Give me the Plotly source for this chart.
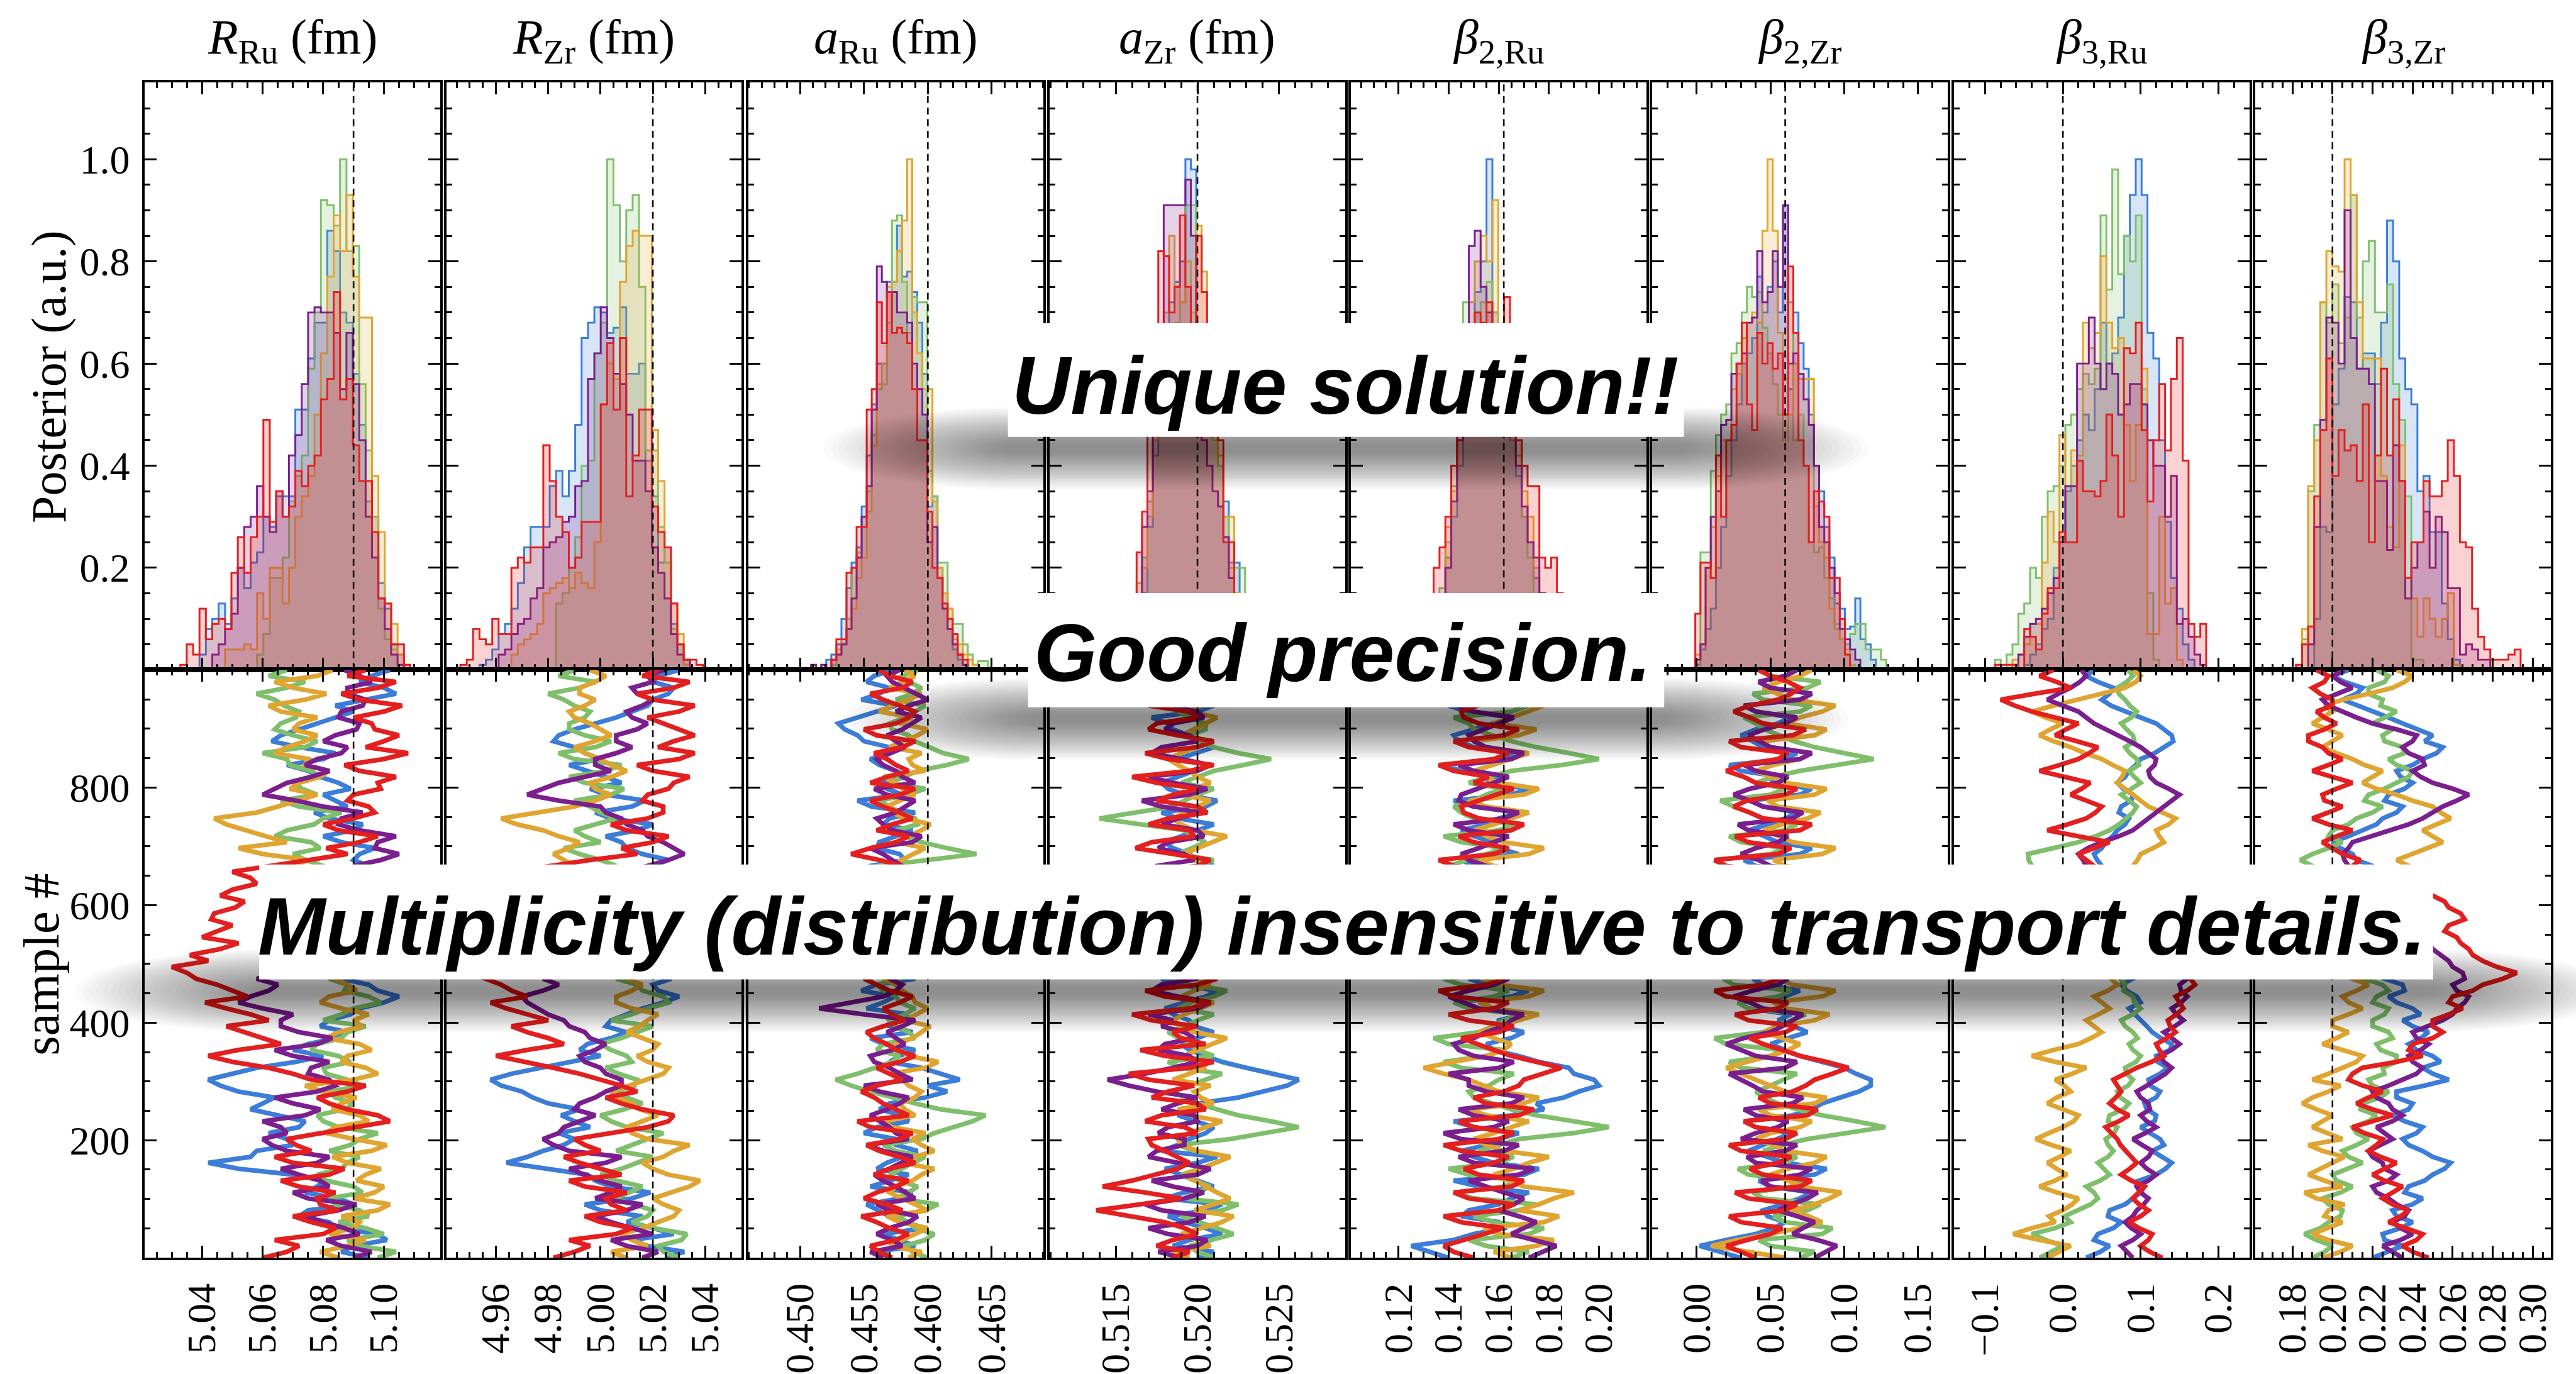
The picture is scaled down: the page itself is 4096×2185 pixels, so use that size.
import numpy as np
import plotly.graph_objects as go

# ------------------------------------------------------------------ data
TITLES = ["<i>R</i><sub>Ru</sub> (fm)", "<i>R</i><sub>Zr</sub> (fm)",
          "<i>a</i><sub>Ru</sub> (fm)", "<i>a</i><sub>Zr</sub> (fm)",
          "<i>β</i><sub>2,Ru</sub>", "<i>β</i><sub>2,Zr</sub>",
          "<i>β</i><sub>3,Ru</sub>", "<i>β</i><sub>3,Zr</sub>"]
TRUE_VALUES = [5.09, 5.02, 0.46, 0.52, 0.162, 0.06, 0.0, 0.20]
X_RANGES = [[5.0211, 5.1187], [4.941, 5.054], [0.44594, 0.46906], [0.51094, 0.52903],
            [0.1009, 0.2189], [-0.0303, 0.1702], [-0.1401, 0.2401], [0.1615, 0.309]]
X_TICKVALS = [[5.04, 5.06, 5.08, 5.10], [4.96, 4.98, 5.00, 5.02, 5.04],
              [0.450, 0.455, 0.460, 0.465], [0.515, 0.520, 0.525],
              [0.12, 0.14, 0.16, 0.18, 0.20], [0.00, 0.05, 0.10, 0.15],
              [-0.1, 0.0, 0.1, 0.2], [0.18, 0.20, 0.22, 0.24, 0.26, 0.28, 0.30]]
X_TICKTEXT = [["5.04", "5.06", "5.08", "5.10"], ["4.96", "4.98", "5.00", "5.02", "5.04"],
              ["0.450", "0.455", "0.460", "0.465"], ["0.515", "0.520", "0.525"],
              ["0.12", "0.14", "0.16", "0.18", "0.20"], ["0.00", "0.05", "0.10", "0.15"],
              ["\u22120.1", "0.0", "0.1", "0.2"], ["0.18", "0.20", "0.22", "0.24", "0.26", "0.28", "0.30"]]
X_MINOR_STEP = [0.005, 0.005, 0.001, 0.001, 0.005, 0.01, 0.02, 0.005]

HIST_TICKVALS = [0.2, 0.4, 0.6, 0.8, 1.0]
HIST_TICKTEXT = ["0.2", "0.4", "0.6", "0.8", "1.0"]
SAMPLE_TICKVALS = [200, 400, 600, 800]
SAMPLE_TICKTEXT = ["200", "400", "600", "800"]
SAMPLE_STEP = 10.1

# histogram bin layout per panel: first edge, bin width
HIST_X0 = [5.0328, 4.9464, 0.45047, 0.51561, 0.13164, -0.001, -0.0875, 0.1818]
HIST_BW = [0.00211, 0.00244, 0.0003956, 0.000332, 0.002345, 0.0035, 0.00755, 0.00303]

# --- histogram heights (order: blue, green, orange, purple, red)
H_RRU_BLUE = [0, 0, 0, 0.03, 0.08, 0.10, 0.13, 0.09, 0.14, 0.20, 0.16, 0.21, 0.23, 0.30, 0.28, 0.34, 0.34, 0.34, 0.51, 0.51,
              0.61, 0.68, 0.68, 0.86, 0.82, 0.70, 0.68, 0.58, 0.48, 0.33, 0.30, 0.17, 0.12, 0.05, 0.03, 0.0]
H_RRU_GREEN = [0, 0, 0, 0, 0, 0, 0, 0, 0, 0, 0, 0, 0.03, 0.07, 0.18, 0.18, 0.22, 0.33, 0.38, 0.42,
               0.59, 0.70, 0.92, 0.91, 0.87, 1.00, 0.82, 0.83, 0.56, 0.43, 0.30, 0.12, 0.06, 0.04, 0.0, 0.0]
H_RRU_ORANGE = [0, 0, 0, 0, 0, 0, 0, 0.04, 0.04, 0.04, 0.05, 0.04, 0.15, 0.10, 0.20, 0.20, 0.13, 0.20, 0.30, 0.34,
                0.38, 0.50, 0.62, 0.77, 0.89, 0.82, 0.93, 0.77, 0.69, 0.69, 0.38, 0.27, 0.13, 0.09, 0.03, 0.01]
H_RRU_PURPLE = [0, 0, 0, 0, 0, 0.03, 0.05, 0.08, 0.11, 0.20, 0.28, 0.30, 0.36, 0.30, 0.27, 0.35, 0.30, 0.42, 0.46, 0.56,
                0.70, 0.71, 0.70, 0.70, 0.66, 0.55, 0.66, 0.56, 0.45, 0.30, 0.22, 0.14, 0.08, 0.03, 0.01, 0.0]
H_RRU_RED = [0.01, 0.05, 0.03, 0.12, 0.06, 0.09, 0.10, 0.08, 0.19, 0.26, 0.19, 0.26, 0.30, 0.49, 0.29, 0.35, 0.30, 0.32, 0.39, 0.36,
             0.40, 0.42, 0.53, 0.57, 0.74, 0.53, 0.57, 0.44, 0.37, 0.37, 0.27, 0.14, 0.13, 0.05, 0.05, 0.01]

H_RZR_BLUE = [0, 0, 0, 0.01, 0.02, 0.04, 0.07, 0.09, 0.12, 0.17, 0.24, 0.28, 0.28, 0.28, 0.36, 0.39, 0.34, 0.39, 0.48, 0.65,
              0.68, 0.71, 0.70, 0.66, 0.67, 0.71, 0.58, 0.58, 0.60, 0.41, 0.34, 0.21, 0.24, 0.09, 0.05, 0.02, 0, 0]
H_RZR_GREEN = [0, 0, 0, 0, 0, 0, 0, 0, 0, 0, 0, 0, 0, 0, 0, 0.13, 0.15, 0.20, 0.26, 0.40,
               0.41, 0.62, 0.68, 1.00, 0.91, 0.80, 0.90, 0.93, 0.75, 0.43, 0.43, 0.28, 0.21, 0.08, 0.05, 0.02, 0, 0]
H_RZR_ORANGE = [0, 0, 0, 0, 0, 0, 0, 0, 0.03, 0.05, 0.06, 0.07, 0.09, 0.15, 0.16, 0.17, 0.18, 0.16, 0.19, 0.17,
                0.16, 0.25, 0.52, 0.60, 0.57, 0.76, 0.83, 0.86, 0.85, 0.85, 0.47, 0.37, 0.24, 0.13, 0.07, 0.01, 0, 0]
H_RZR_PURPLE = [0, 0, 0, 0, 0, 0, 0.03, 0.04, 0.07, 0.09, 0.10, 0.14, 0.16, 0.24, 0.25, 0.26, 0.29, 0.30, 0.36, 0.37,
                0.57, 0.62, 0.71, 0.65, 0.58, 0.56, 0.50, 0.41, 0.41, 0.35, 0.24, 0.19, 0.14, 0.07, 0.03, 0.02, 0, 0]
H_RZR_RED = [0.01, 0.02, 0.08, 0.06, 0.05, 0.10, 0.07, 0.07, 0.20, 0.22, 0.21, 0.24, 0.24, 0.44, 0.37, 0.30, 0.27, 0.20, 0.22, 0.29,
             0.29, 0.29, 0.52, 0.64, 0.51, 0.65, 0.34, 0.42, 0.51, 0.51, 0.32, 0.27, 0.24, 0.13, 0.05, 0.02, 0.02, 0.01]

H_ARU_BLUE = [0, 0, 0, 0, 0.02, 0.03, 0.05, 0.10, 0.16, 0.21, 0.24, 0.32, 0.42, 0.52, 0.60, 0.60, 0.76, 0.76, 0.87, 0.77,
              0.78, 0.74, 0.68, 0.58, 0.32, 0.34, 0.20, 0.15, 0.08, 0.04, 0.02, 0.01, 0, 0, 0, 0, 0]
H_ARU_GREEN = [0, 0, 0, 0, 0, 0.01, 0.03, 0.05, 0.10, 0.20, 0.23, 0.30, 0.35, 0.46, 0.55, 0.56, 0.68, 0.88, 0.89, 0.76,
               0.66, 0.73, 0.72, 0.72, 0.39, 0.34, 0.21, 0.21, 0.12, 0.09, 0.09, 0.05, 0.03, 0.01, 0.017, 0.017, 0]
H_ARU_ORANGE = [0, 0.01, 0, 0.01, 0, 0.02, 0.04, 0.06, 0.08, 0.12, 0.18, 0.22, 0.31, 0.44, 0.56, 0.60, 0.75, 0.76, 0.82, 0.88,
                1.00, 0.70, 0.62, 0.55, 0.55, 0.33, 0.20, 0.15, 0.12, 0.06, 0.05, 0.03, 0.02, 0.01, 0, 0, 0]
H_ARU_PURPLE = [0, 0.01, 0, 0.01, 0, 0.02, 0.03, 0.05, 0.08, 0.14, 0.22, 0.30, 0.36, 0.51, 0.79, 0.76, 0.74, 0.74, 0.70, 0.70,
                0.68, 0.60, 0.55, 0.50, 0.25, 0.28, 0.18, 0.12, 0.08, 0.05, 0.03, 0.01, 0, 0, 0, 0, 0]
H_ARU_RED = [0, 0, 0, 0, 0, 0.02, 0.06, 0.06, 0.19, 0.20, 0.28, 0.28, 0.51, 0.55, 0.72, 0.64, 0.74, 0.66, 0.67, 0.66,
             0.64, 0.55, 0.45, 0.45, 0.31, 0.20, 0.18, 0.13, 0.10, 0.07, 0.03, 0.02, 0, 0, 0, 0, 0]

H_AZR_BLUE = [0.01, 0.03, 0.08, 0.15, 0.28, 0.42, 0.55, 0.62, 0.72, 0.76, 0.80, 1.00, 0.98, 0.62, 0.58, 0.55, 0.48, 0.40, 0.33, 0.21,
              0.21, 0.10, 0.05, 0.02]
H_AZR_GREEN = [0.03, 0.08, 0.17, 0.22, 0.33, 0.45, 0.55, 0.60, 0.65, 0.68, 0.72, 0.91, 0.91, 0.58, 0.55, 0.52, 0.45, 0.40, 0.30, 0.20,
               0.20, 0.20, 0.10, 0.05]
H_AZR_ORANGE = [0.0, 0.02, 0.08, 0.20, 0.30, 0.45, 0.60, 0.70, 0.85, 0.75, 0.72, 0.80, 0.70, 0.87, 0.78, 0.66, 0.55, 0.42, 0.30, 0.30,
                0.15, 0.06, 0.02, 0.01]
H_AZR_PURPLE = [0.01, 0.04, 0.12, 0.28, 0.35, 0.48, 0.60, 0.91, 0.91, 0.91, 0.91, 0.96, 0.85, 0.55, 0.45, 0.40, 0.35, 0.32, 0.26, 0.18,
                0.10, 0.06, 0.03, 0.01]
H_AZR_RED = [0.01, 0.05, 0.23, 0.31, 0.50, 0.62, 0.82, 0.81, 0.70, 0.75, 0.89, 0.75, 0.60, 0.85, 0.74, 0.62, 0.55, 0.45, 0.25, 0.25,
             0.12, 0.05, 0.02, 0.0]

H_B2RU_BLUE = [0.0, 0.02, 0.10, 0.22, 0.30, 0.40, 0.55, 0.60, 0.74, 0.80, 1.00, 0.70, 0.60, 0.55, 0.45, 0.38, 0.30, 0.25, 0.18, 0.12,
               0.08, 0.05, 0.02, 0.01]
H_B2RU_GREEN = [0.0, 0.03, 0.16, 0.25, 0.36, 0.48, 0.72, 0.65, 0.70, 0.72, 0.76, 0.70, 0.58, 0.50, 0.46, 0.42, 0.30, 0.22, 0.12, 0.08,
                0.05, 0.03, 0.02, 0.0]
H_B2RU_ORANGE = [0.0, 0.05, 0.14, 0.28, 0.35, 0.45, 0.55, 0.72, 0.80, 0.85, 0.80, 0.92, 0.62, 0.55, 0.48, 0.45, 0.35, 0.30, 0.20, 0.15,
                 0.10, 0.05, 0.03, 0.01]
H_B2RU_PURPLE = [0.01, 0.04, 0.12, 0.20, 0.33, 0.45, 0.55, 0.83, 0.86, 0.75, 0.70, 0.65, 0.55, 0.50, 0.47, 0.40, 0.32, 0.25, 0.22, 0.15,
                 0.10, 0.06, 0.02, 0.01]
H_B2RU_RED = [0.0, 0.20, 0.24, 0.30, 0.40, 0.55, 0.62, 0.66, 0.70, 0.68, 0.72, 0.65, 0.60, 0.73, 0.55, 0.45, 0.40, 0.36, 0.36, 0.22,
              0.20, 0.22, 0.15, 0.0]

H_B2ZR_BLUE = [0.01, 0.04, 0.08, 0.12, 0.20, 0.28, 0.38, 0.45, 0.52, 0.60, 0.62, 0.65, 0.77, 0.70, 0.75, 0.80, 0.70, 0.91, 0.55, 0.70,
               0.64, 0.59, 0.50, 0.40, 0.35, 0.28, 0.22, 0.13, 0.12, 0.08, 0.085, 0.14, 0.06, 0.05, 0.02, 0, 0, 0]
H_B2ZR_GREEN = [0, 0.23, 0.23, 0.39, 0.46, 0.50, 0.52, 0.62, 0.64, 0.70, 0.75, 0.73, 0.74, 0.67, 0.62, 0.56, 0.50, 0.45, 0.72, 0.45,
                0.50, 0.40, 0.25, 0.23, 0.24, 0.18, 0.14, 0.08, 0.06, 0.05, 0.07, 0.09, 0.09, 0.04, 0.04, 0.04, 0.02, 0]
H_B2ZR_ORANGE = [0.03, 0.05, 0.20, 0.28, 0.38, 0.45, 0.45, 0.55, 0.58, 0.65, 0.68, 0.70, 0.68, 0.86, 1.00, 0.86, 0.66, 0.57, 0.50, 0.60,
                 0.57, 0.57, 0.57, 0.32, 0.25, 0.22, 0.12, 0.09, 0.06, 0.04, 0.01, 0, 0, 0, 0, 0, 0, 0]
H_B2ZR_PURPLE = [0.02, 0.05, 0.20, 0.30, 0.35, 0.48, 0.49, 0.58, 0.60, 0.62, 0.68, 0.69, 0.82, 0.72, 0.74, 0.82, 0.75, 0.91, 0.60, 0.62,
                 0.58, 0.53, 0.48, 0.40, 0.28, 0.25, 0.20, 0.15, 0.08, 0.06, 0.04, 0.02, 0, 0, 0, 0, 0, 0]
H_B2ZR_RED = [0.11, 0.21, 0.21, 0.18, 0.42, 0.30, 0.45, 0.48, 0.60, 0.68, 0.52, 0.47, 0.66, 0.60, 0.64, 0.59, 0.62, 0.50, 0.79, 0.66,
              0.45, 0.40, 0.25, 0.35, 0.33, 0.30, 0.18, 0.18, 0.10, 0.03, 0, 0, 0, 0, 0, 0, 0, 0]

H_B3RU_BLUE = [0, 0, 0, 0, 0, 0.01, 0.03, 0.05, 0.08, 0.10, 0.20, 0.26, 0.35, 0.40, 0.45, 0.50, 0.47, 0.55, 0.68, 0.60,
               0.62, 0.69, 0.85, 0.93, 1.00, 0.93, 0.66, 0.61, 0.45, 0.29, 0.18, 0.12, 0.05, 0.02, 0, 0, 0]
H_B3RU_GREEN = [0.02, 0, 0.03, 0.05, 0.11, 0.13, 0.20, 0.18, 0.30, 0.35, 0.36, 0.40, 0.48, 0.50, 0.55, 0.58, 0.56, 0.59, 0.89, 0.745,
                0.98, 0.775, 0.85, 0.80, 0.89, 0.55, 0.15, 0.02, 0, 0, 0, 0, 0, 0, 0, 0, 0]
H_B3RU_ORANGE = [0, 0, 0, 0.02, 0.03, 0.05, 0.09, 0.09, 0.21, 0.31, 0.25, 0.46, 0.36, 0.43, 0.42, 0.68, 0.63, 0.66, 0.81, 0.68,
                 0.63, 0.65, 0.48, 0.37, 0.48, 0.59, 0.07, 0.07, 0.30, 0.13, 0.16, 0.02, 0, 0, 0, 0, 0]
H_B3RU_PURPLE = [0, 0, 0, 0, 0.03, 0.065, 0.09, 0.10, 0.12, 0.15, 0.18, 0.25, 0.36, 0.36, 0.60, 0.60, 0.69, 0.60, 0.55, 0.60,
                 0.58, 0.50, 0.52, 0.56, 0.56, 0.52, 0.45, 0.40, 0.40, 0.30, 0.38, 0.09, 0.10, 0.065, 0.03, 0.01, 0]
H_B3RU_RED = [0.01, 0.01, 0.01, 0.01, 0.0, 0.08, 0.065, 0.04, 0.11, 0.16, 0.16, 0.27, 0.25, 0.25, 0.41, 0.35, 0.35, 0.34, 0.37, 0.50,
              0.42, 0.30, 0.63, 0.62, 0.68, 0.47, 0.33, 0.45, 0.56, 0.43, 0.57, 0.65, 0.41, 0.09, 0.065, 0.09, 0]

H_B3ZR_BLUE = [0, 0, 0, 0.10, 0.28, 0.27, 0.52, 0.59, 0.73, 0.72, 0.59, 0.62, 0.62, 0.56, 0.68, 0.88, 0.80, 0.61, 0.55, 0.52,
               0.35, 0.38, 0.27, 0.27, 0.13, 0.06, 0.02, 0, 0, 0, 0, 0, 0, 0, 0, 0, 0, 0]
H_B3ZR_GREEN = [0, 0.06, 0.35, 0.48, 0.72, 0.68, 0.755, 0.64, 0.69, 0.93, 0.69, 0.80, 0.84, 0.70, 0.70, 0.755, 0.56, 0.49, 0.34, 0.02,
                0.02, 0, 0, 0, 0, 0, 0, 0, 0, 0, 0, 0, 0, 0, 0, 0, 0, 0]
H_B3ZR_ORANGE = [0.01, 0.08, 0.36, 0.45, 0.72, 0.82, 0.79, 0.78, 1.00, 0.93, 0.72, 0.61, 0.61, 0.61, 0.38, 0.28, 0.24, 0.44, 0.14, 0.14,
                 0.065, 0.14, 0.10, 0.065, 0.10, 0.15, 0.01, 0, 0, 0, 0, 0, 0, 0, 0, 0, 0, 0]
H_B3ZR_PURPLE = [0, 0, 0.05, 0.28, 0.49, 0.69, 0.68, 0.60, 0.90, 0.65, 0.59, 0.59, 0.56, 0.37, 0.37, 0.235, 0.44, 0.37, 0.14, 0.20,
                 0.25, 0.31, 0.20, 0.30, 0.27, 0.16, 0.16, 0.03, 0.05, 0.04, 0.02, 0.02, 0, 0, 0, 0, 0, 0]
H_B3ZR_RED = [0.01, 0.05, 0.085, 0.34, 0.47, 0.61, 0.38, 0.47, 0.43, 0.44, 0.37, 0.52, 0.25, 0.42, 0.59, 0.42, 0.53, 0.37, 0.18, 0.25,
              0.25, 0.37, 0.34, 0.34, 0.37, 0.45, 0.38, 0.25, 0.24, 0.12, 0.065, 0.04, 0.02, 0.02, 0.02, 0.03, 0.04, 0]

# --- MCMC chains, one value every SAMPLE_STEP samples (100 per chain)
T_RRU_BLUE = [5.095, 5.086, 5.090, 5.101, 5.098, 5.084, 5.082, 5.072, 5.075, 5.090,
              5.085, 5.074, 5.078, 5.080, 5.070, 5.052, 5.042, 5.056, 5.058, 5.070,
              5.068, 5.062, 5.072, 5.074, 5.065, 5.056, 5.060, 5.064, 5.052, 5.046,
              5.042, 5.050, 5.058, 5.071, 5.080, 5.070, 5.075, 5.084, 5.088, 5.079,
              5.082, 5.089, 5.092, 5.100, 5.105, 5.098, 5.095, 5.086, 5.090, 5.094,
              5.085, 5.096, 5.092, 5.083, 5.088, 5.098, 5.095, 5.089, 5.085, 5.093,
              5.090, 5.086, 5.094, 5.099, 5.088, 5.084, 5.095, 5.090, 5.092, 5.097,
              5.086, 5.080, 5.090, 5.093, 5.082, 5.077, 5.088, 5.084, 5.080, 5.089,
              5.085, 5.079, 5.075, 5.068, 5.080, 5.084, 5.072, 5.063, 5.066, 5.072,
              5.078, 5.085, 5.090, 5.084, 5.095, 5.104, 5.100, 5.092, 5.096, 5.102]
T_RRU_GREEN = [5.098, 5.104, 5.092, 5.088, 5.100, 5.094, 5.085, 5.095, 5.092, 5.084,
               5.082, 5.093, 5.090, 5.081, 5.078, 5.086, 5.088, 5.092, 5.082, 5.089,
               5.092, 5.098, 5.085, 5.080, 5.078, 5.087, 5.090, 5.084, 5.082, 5.093,
               5.088, 5.081, 5.080, 5.089, 5.085, 5.076, 5.078, 5.086, 5.088, 5.094,
               5.080, 5.086, 5.090, 5.099, 5.095, 5.087, 5.088, 5.082, 5.085, 5.090,
               5.080, 5.073, 5.078, 5.086, 5.082, 5.074, 5.075, 5.083, 5.080, 5.068,
               5.072, 5.080, 5.078, 5.071, 5.075, 5.084, 5.080, 5.074, 5.070, 5.079,
               5.076, 5.064, 5.068, 5.077, 5.080, 5.086, 5.072, 5.066, 5.078, 5.073,
               5.070, 5.079, 5.076, 5.069, 5.068, 5.060, 5.074, 5.078, 5.070, 5.064,
               5.066, 5.071, 5.072, 5.067, 5.064, 5.058, 5.068, 5.074, 5.062, 5.068]
T_RRU_ORANGE = [5.085, 5.079, 5.088, 5.094, 5.082, 5.090, 5.092, 5.086, 5.098, 5.102,
                5.090, 5.097, 5.100, 5.091, 5.094, 5.099, 5.088, 5.083, 5.096, 5.101,
                5.090, 5.081, 5.084, 5.095, 5.092, 5.083, 5.086, 5.091, 5.080, 5.074,
                5.090, 5.098, 5.094, 5.086, 5.088, 5.096, 5.092, 5.081, 5.085, 5.093,
                5.090, 5.095, 5.086, 5.079, 5.082, 5.091, 5.088, 5.084, 5.080, 5.089,
                5.085, 5.074, 5.078, 5.088, 5.084, 5.076, 5.080, 5.090, 5.086, 5.079,
                5.082, 5.088, 5.076, 5.070, 5.078, 5.066, 5.070, 5.075, 5.060, 5.052,
                5.068, 5.061, 5.055, 5.048, 5.044, 5.058, 5.065, 5.072, 5.078, 5.069,
                5.072, 5.079, 5.082, 5.074, 5.075, 5.064, 5.068, 5.074, 5.078, 5.070,
                5.072, 5.078, 5.066, 5.062, 5.074, 5.081, 5.070, 5.064, 5.078, 5.083]
T_RRU_PURPLE = [5.090, 5.096, 5.086, 5.081, 5.092, 5.087, 5.080, 5.074, 5.085, 5.091,
                5.075, 5.070, 5.082, 5.079, 5.072, 5.066, 5.078, 5.082, 5.068, 5.063,
                5.060, 5.068, 5.066, 5.060, 5.074, 5.079, 5.070, 5.064, 5.078, 5.084,
                5.082, 5.075, 5.076, 5.082, 5.070, 5.064, 5.078, 5.083, 5.072, 5.066,
                5.066, 5.070, 5.060, 5.052, 5.056, 5.062, 5.065, 5.058, 5.070, 5.076,
                5.075, 5.069, 5.080, 5.087, 5.085, 5.078, 5.082, 5.090, 5.088, 5.082,
                5.084, 5.092, 5.090, 5.083, 5.086, 5.094, 5.090, 5.099, 5.105, 5.097,
                5.098, 5.104, 5.092, 5.085, 5.086, 5.093, 5.080, 5.071, 5.060, 5.064,
                5.068, 5.076, 5.082, 5.074, 5.078, 5.086, 5.088, 5.080, 5.084, 5.091,
                5.092, 5.085, 5.086, 5.093, 5.094, 5.088, 5.088, 5.096, 5.092, 5.087]
T_RRU_RED = [5.060, 5.068, 5.072, 5.064, 5.080, 5.084, 5.076, 5.070, 5.085, 5.079,
             5.078, 5.084, 5.072, 5.066, 5.082, 5.087, 5.070, 5.064, 5.076, 5.071,
             5.068, 5.080, 5.090, 5.102, 5.098, 5.088, 5.082, 5.078, 5.088, 5.094,
             5.076, 5.070, 5.062, 5.050, 5.042, 5.052, 5.066, 5.060, 5.055, 5.048,
             5.062, 5.056, 5.048, 5.041, 5.055, 5.050, 5.045, 5.038, 5.035, 5.030,
             5.042, 5.036, 5.046, 5.052, 5.040, 5.045, 5.050, 5.043, 5.044, 5.051,
             5.054, 5.046, 5.050, 5.058, 5.056, 5.050, 5.062, 5.074, 5.088, 5.081,
             5.092, 5.098, 5.085, 5.080, 5.090, 5.097, 5.095, 5.088, 5.090, 5.099,
             5.098, 5.104, 5.092, 5.087, 5.100, 5.108, 5.094, 5.100, 5.105, 5.097,
             5.096, 5.090, 5.100, 5.106, 5.092, 5.086, 5.098, 5.104, 5.088, 5.094]

T_RZR_BLUE = [5.025, 5.032, 5.018, 5.012, 5.028, 5.020, 5.010, 5.016, 5.000, 4.994,
              5.012, 5.019, 5.004, 4.998, 4.995, 4.980, 4.964, 4.972, 4.978, 4.986,
              4.990, 4.984, 4.996, 4.990, 4.985, 4.992, 4.980, 4.974, 4.970, 4.962,
              4.958, 4.966, 4.978, 4.990, 5.000, 4.992, 4.995, 5.004, 5.010, 5.002,
              5.004, 5.010, 5.016, 5.024, 5.030, 5.022, 5.020, 5.027, 5.014, 5.008,
              5.008, 5.014, 5.016, 5.006, 5.010, 5.018, 5.020, 5.012, 5.008, 5.002,
              5.014, 5.022, 5.018, 5.010, 5.012, 5.019, 5.020, 5.026, 5.016, 5.010,
              5.008, 5.002, 5.014, 5.020, 5.004, 4.998, 5.012, 5.017, 5.002, 4.996,
              5.008, 5.002, 4.995, 4.988, 5.000, 4.994, 4.990, 4.982, 4.984, 4.990,
              4.998, 5.006, 5.012, 5.018, 5.020, 5.026, 5.028, 5.020, 5.022, 5.030]
T_RZR_GREEN = [5.030, 5.024, 5.022, 5.031, 5.033, 5.020, 5.012, 5.018, 5.020, 5.012,
               5.005, 5.011, 5.016, 5.006, 5.000, 5.008, 5.014, 5.020, 5.006, 5.012,
               5.018, 5.024, 5.010, 5.004, 5.000, 5.009, 5.016, 5.010, 5.006, 5.013,
               5.014, 5.007, 5.002, 5.012, 5.010, 5.004, 5.000, 5.008, 5.014, 5.020,
               5.004, 5.012, 5.018, 5.026, 5.024, 5.016, 5.014, 5.006, 5.010, 5.016,
               5.004, 4.996, 5.000, 5.008, 5.006, 5.000, 4.998, 4.992, 5.004, 5.010,
               4.994, 4.988, 5.002, 5.008, 4.998, 4.992, 5.006, 5.000, 4.992, 4.986,
               5.000, 4.994, 4.990, 4.998, 5.006, 5.000, 4.996, 4.990, 5.004, 5.009,
               4.994, 4.988, 5.002, 5.008, 4.990, 4.984, 4.998, 5.004, 4.994, 4.988,
               4.988, 4.994, 4.996, 4.990, 4.986, 4.980, 4.992, 4.998, 4.984, 4.990]
T_RZR_ORANGE = [5.010, 5.004, 5.018, 5.012, 5.008, 5.016, 5.022, 5.028, 5.030, 5.024,
                5.020, 5.027, 5.034, 5.038, 5.026, 5.020, 5.016, 5.024, 5.028, 5.034,
                5.018, 5.012, 5.010, 5.016, 5.022, 5.015, 5.012, 5.006, 5.004, 5.011,
                5.018, 5.024, 5.026, 5.018, 5.014, 5.020, 5.022, 5.016, 5.010, 5.015,
                5.018, 5.022, 5.012, 5.006, 5.006, 5.012, 5.016, 5.010, 5.004, 5.000,
                5.010, 5.004, 5.000, 5.006, 5.008, 5.000, 5.004, 5.010, 5.012, 5.006,
                5.006, 5.000, 4.998, 5.004, 5.000, 4.994, 4.990, 4.986, 4.982, 4.988,
                4.992, 4.984, 4.978, 4.968, 4.962, 4.976, 4.990, 4.998, 5.004, 4.998,
                4.996, 5.004, 5.010, 5.004, 5.000, 4.994, 4.990, 4.998, 5.004, 5.000,
                4.996, 4.990, 4.988, 4.994, 4.998, 4.992, 4.992, 4.998, 5.002, 4.996]
T_RZR_PURPLE = [5.016, 5.022, 5.010, 5.004, 5.020, 5.012, 5.004, 4.998, 5.010, 5.016,
                4.998, 5.004, 5.008, 5.000, 4.994, 4.988, 5.002, 5.008, 4.988, 4.982,
                4.978, 4.984, 4.986, 4.992, 4.998, 4.990, 4.992, 4.998, 5.002, 5.008,
                5.008, 5.002, 5.000, 4.994, 4.992, 4.998, 5.002, 4.996, 4.994, 4.988,
                4.986, 4.980, 4.976, 4.972, 4.970, 4.978, 4.984, 4.978, 4.990, 4.996,
                4.998, 4.994, 5.004, 5.012, 5.010, 5.002, 5.006, 5.012, 5.014, 5.008,
                5.010, 5.016, 5.018, 5.010, 5.012, 5.020, 5.018, 5.026, 5.032, 5.028,
                5.024, 5.018, 5.016, 5.010, 5.008, 5.002, 5.000, 4.984, 4.972, 4.978,
                4.984, 4.994, 5.004, 4.998, 4.998, 5.006, 5.012, 5.006, 5.006, 5.014,
                5.018, 5.012, 5.010, 5.016, 5.020, 5.014, 5.012, 5.020, 5.018, 5.024]
T_RZR_RED = [4.982, 4.990, 4.996, 4.988, 5.006, 5.012, 5.000, 4.994, 5.010, 5.004,
             5.002, 5.010, 4.994, 4.988, 5.008, 5.000, 4.992, 4.986, 5.000, 4.994,
             4.990, 5.004, 5.018, 5.026, 5.028, 5.016, 5.008, 5.002, 5.014, 5.008,
             5.000, 4.992, 4.982, 4.970, 4.960, 4.972, 4.986, 4.980, 4.972, 4.966,
             4.980, 4.972, 4.964, 4.958, 4.972, 4.966, 4.962, 4.956, 4.950, 4.946,
             4.958, 4.952, 4.962, 4.968, 4.955, 4.950, 4.966, 4.960, 4.958, 4.964,
             4.970, 4.962, 4.966, 4.974, 4.972, 4.966, 4.980, 4.996, 5.014, 5.008,
             5.020, 5.026, 5.010, 5.004, 5.018, 5.024, 5.024, 5.016, 5.018, 5.026,
             5.028, 5.034, 5.020, 5.014, 5.030, 5.036, 5.022, 5.028, 5.036, 5.030,
             5.024, 5.018, 5.030, 5.036, 5.020, 5.014, 5.028, 5.034, 5.016, 5.022]

T_ARU_BLUE = [0.4572, 0.4560, 0.4590, 0.4578, 0.4565, 0.4598, 0.4582, 0.4570, 0.4560, 0.4552,
              0.4578, 0.4588, 0.4555, 0.4570, 0.4585, 0.4560, 0.4568, 0.4580, 0.4592, 0.4575,
              0.4575, 0.4550, 0.4560, 0.4585, 0.4580, 0.4562, 0.4570, 0.4598, 0.4615, 0.4600,
              0.4625, 0.4610, 0.4595, 0.4570, 0.4578, 0.4590, 0.4565, 0.4555, 0.4588, 0.4570,
              0.4570, 0.4585, 0.4552, 0.4565, 0.4574, 0.4548, 0.4560, 0.4590, 0.4582, 0.4568,
              0.4566, 0.4578, 0.4590, 0.4560, 0.4572, 0.4585, 0.4558, 0.4568, 0.4580, 0.4562,
              0.4565, 0.4592, 0.4585, 0.4568, 0.4570, 0.4548, 0.4555, 0.4582, 0.4578, 0.4560,
              0.4562, 0.4575, 0.4588, 0.4565, 0.4570, 0.4590, 0.4556, 0.4545, 0.4580, 0.4568,
              0.4560, 0.4585, 0.4575, 0.4562, 0.4555, 0.4568, 0.4570, 0.4550, 0.4545, 0.4535,
              0.4530, 0.4545, 0.4560, 0.4575, 0.4548, 0.4562, 0.4570, 0.4552, 0.4558, 0.4572]
T_ARU_GREEN = [0.4600, 0.4588, 0.4582, 0.4598, 0.4605, 0.4590, 0.4585, 0.4575, 0.4598, 0.4608,
               0.4575, 0.4585, 0.4592, 0.4578, 0.4570, 0.4580, 0.4588, 0.4598, 0.4575, 0.4565,
               0.4595, 0.4605, 0.4620, 0.4635, 0.4645, 0.4610, 0.4590, 0.4572, 0.4555, 0.4540,
               0.4528, 0.4545, 0.4560, 0.4572, 0.4578, 0.4560, 0.4565, 0.4590, 0.4585, 0.4575,
               0.4570, 0.4582, 0.4590, 0.4578, 0.4575, 0.4565, 0.4560, 0.4578, 0.4585, 0.4595,
               0.4568, 0.4580, 0.4592, 0.4600, 0.4575, 0.4565, 0.4560, 0.4572, 0.4580, 0.4590,
               0.4568, 0.4578, 0.4590, 0.4582, 0.4575, 0.4568, 0.4560, 0.4600, 0.4638, 0.4615,
               0.4595, 0.4582, 0.4575, 0.4592, 0.4590, 0.4578, 0.4570, 0.4562, 0.4585, 0.4598,
               0.4570, 0.4580, 0.4592, 0.4615, 0.4632, 0.4612, 0.4600, 0.4590, 0.4585, 0.4572,
               0.4570, 0.4582, 0.4590, 0.4598, 0.4575, 0.4588, 0.4595, 0.4585, 0.4580, 0.4592]
T_ARU_ORANGE = [0.4585, 0.4595, 0.4570, 0.4580, 0.4592, 0.4600, 0.4578, 0.4568, 0.4600, 0.4590,
                0.4582, 0.4570, 0.4575, 0.4588, 0.4595, 0.4605, 0.4580, 0.4590, 0.4605, 0.4595,
                0.4588, 0.4598, 0.4572, 0.4565, 0.4590, 0.4582, 0.4578, 0.4590, 0.4595, 0.4585,
                0.4580, 0.4570, 0.4598, 0.4608, 0.4585, 0.4578, 0.4575, 0.4588, 0.4595, 0.4602,
                0.4582, 0.4592, 0.4600, 0.4590, 0.4588, 0.4580, 0.4575, 0.4565, 0.4595, 0.4605,
                0.4580, 0.4588, 0.4598, 0.4590, 0.4585, 0.4595, 0.4572, 0.4580, 0.4590, 0.4600,
                0.4578, 0.4568, 0.4595, 0.4585, 0.4582, 0.4575, 0.4570, 0.4580, 0.4588, 0.4598,
                0.4575, 0.4585, 0.4595, 0.4602, 0.4582, 0.4572, 0.4568, 0.4578, 0.4590, 0.4580,
                0.4575, 0.4565, 0.4598, 0.4588, 0.4585, 0.4595, 0.4570, 0.4580, 0.4592, 0.4600,
                0.4578, 0.4588, 0.4562, 0.4572, 0.4585, 0.4595, 0.4570, 0.4580, 0.4590, 0.4582]
T_ARU_PURPLE = [0.4565, 0.4555, 0.4580, 0.4572, 0.4560, 0.4570, 0.4585, 0.4592, 0.4570, 0.4560,
                0.4590, 0.4582, 0.4575, 0.4565, 0.4558, 0.4570, 0.4580, 0.4588, 0.4565, 0.4552,
                0.4585, 0.4575, 0.4570, 0.4562, 0.4555, 0.4568, 0.4578, 0.4585, 0.4562, 0.4550,
                0.4588, 0.4578, 0.4570, 0.4558, 0.4555, 0.4572, 0.4582, 0.4575, 0.4568, 0.4580,
                0.4590, 0.4550, 0.4515, 0.4540, 0.4565, 0.4575, 0.4580, 0.4570, 0.4568, 0.4578,
                0.4585, 0.4592, 0.4570, 0.4560, 0.4555, 0.4568, 0.4578, 0.4588, 0.4565, 0.4572,
                0.4585, 0.4578, 0.4570, 0.4562, 0.4558, 0.4570, 0.4580, 0.4572, 0.4565, 0.4555,
                0.4588, 0.4595, 0.4572, 0.4565, 0.4560, 0.4575, 0.4582, 0.4590, 0.4568, 0.4558,
                0.4590, 0.4580, 0.4575, 0.4565, 0.4560, 0.4572, 0.4582, 0.4575, 0.4568, 0.4580,
                0.4588, 0.4595, 0.4575, 0.4585, 0.4600, 0.4590, 0.4582, 0.4572, 0.4568, 0.4578]
T_ARU_RED = [0.4572, 0.4562, 0.4555, 0.4575, 0.4585, 0.4570, 0.4560, 0.4548, 0.4580, 0.4568,
             0.4550, 0.4560, 0.4575, 0.4585, 0.4558, 0.4570, 0.4590, 0.4578, 0.4562, 0.4552,
             0.4578, 0.4588, 0.4555, 0.4545, 0.4585, 0.4575, 0.4565, 0.4558, 0.4548, 0.4560,
             0.4580, 0.4570, 0.4560, 0.4578, 0.4590, 0.4575, 0.4568, 0.4558, 0.4552, 0.4565,
             0.4582, 0.4572, 0.4565, 0.4578, 0.4588, 0.4570, 0.4560, 0.4550, 0.4575, 0.4585,
             0.4555, 0.4568, 0.4585, 0.4575, 0.4565, 0.4555, 0.4578, 0.4590, 0.4558, 0.4545,
             0.4585, 0.4575, 0.4568, 0.4558, 0.4552, 0.4565, 0.4580, 0.4562, 0.4540, 0.4555,
             0.4575, 0.4585, 0.4560, 0.4572, 0.4588, 0.4578, 0.4565, 0.4555, 0.4578, 0.4590,
             0.4555, 0.4568, 0.4585, 0.4575, 0.4568, 0.4558, 0.4580, 0.4590, 0.4560, 0.4550,
             0.4575, 0.4585, 0.4590, 0.4578, 0.4565, 0.4555, 0.4580, 0.4588, 0.4570, 0.4562]

T_AZR_BLUE = [0.5200, 0.5210, 0.5185, 0.5195, 0.5215, 0.5205, 0.5192, 0.5182, 0.5205, 0.5215,
              0.5180, 0.5192, 0.5210, 0.5200, 0.5190, 0.5180, 0.5200, 0.5212, 0.5178, 0.5188,
              0.5195, 0.5205, 0.5210, 0.5198, 0.5188, 0.5195, 0.5200, 0.5225, 0.5240, 0.5255,
              0.5262, 0.5245, 0.5230, 0.5215, 0.5205, 0.5195, 0.5190, 0.5200, 0.5210, 0.5198,
              0.5195, 0.5185, 0.5180, 0.5192, 0.5205, 0.5212, 0.5188, 0.5178, 0.5200, 0.5210,
              0.5182, 0.5195, 0.5208, 0.5198, 0.5192, 0.5205, 0.5215, 0.5205, 0.5198, 0.5188,
              0.5185, 0.5195, 0.5205, 0.5212, 0.5190, 0.5180, 0.5210, 0.5200, 0.5195, 0.5185,
              0.5180, 0.5190, 0.5200, 0.5210, 0.5188, 0.5178, 0.5205, 0.5212, 0.5192, 0.5182,
              0.5178, 0.5188, 0.5200, 0.5208, 0.5188, 0.5198, 0.5210, 0.5202, 0.5195, 0.5185,
              0.5182, 0.5172, 0.5200, 0.5210, 0.5190, 0.5182, 0.5205, 0.5212, 0.5195, 0.5188]
T_AZR_GREEN = [0.5210, 0.5200, 0.5195, 0.5208, 0.5222, 0.5212, 0.5200, 0.5190, 0.5215, 0.5225,
               0.5192, 0.5200, 0.5208, 0.5198, 0.5190, 0.5202, 0.5212, 0.5220, 0.5198, 0.5188,
               0.5220, 0.5240, 0.5262, 0.5245, 0.5225, 0.5212, 0.5200, 0.5192, 0.5185, 0.5195,
               0.5205, 0.5215, 0.5190, 0.5182, 0.5210, 0.5200, 0.5195, 0.5188, 0.5182, 0.5192,
               0.5200, 0.5210, 0.5188, 0.5196, 0.5210, 0.5218, 0.5195, 0.5185, 0.5180, 0.5192,
               0.5205, 0.5198, 0.5190, 0.5182, 0.5175, 0.5188, 0.5198, 0.5208, 0.5185, 0.5195,
               0.5205, 0.5212, 0.5192, 0.5185, 0.5180, 0.5190, 0.5200, 0.5210, 0.5188, 0.5196,
               0.5205, 0.5198, 0.5192, 0.5165, 0.5140, 0.5162, 0.5185, 0.5192, 0.5200, 0.5210,
               0.5190, 0.5200, 0.5210, 0.5228, 0.5245, 0.5225, 0.5210, 0.5200, 0.5195, 0.5205,
               0.5205, 0.5195, 0.5188, 0.5195, 0.5200, 0.5192, 0.5185, 0.5192, 0.5198, 0.5208]
T_AZR_ORANGE = [0.5195, 0.5185, 0.5208, 0.5200, 0.5190, 0.5202, 0.5215, 0.5222, 0.5198, 0.5210,
                0.5220, 0.5212, 0.5205, 0.5198, 0.5192, 0.5202, 0.5212, 0.5220, 0.5200, 0.5190,
                0.5188, 0.5195, 0.5205, 0.5215, 0.5195, 0.5188, 0.5210, 0.5202, 0.5198, 0.5208,
                0.5185, 0.5195, 0.5205, 0.5198, 0.5192, 0.5200, 0.5210, 0.5218, 0.5198, 0.5190,
                0.5185, 0.5192, 0.5202, 0.5210, 0.5190, 0.5198, 0.5208, 0.5200, 0.5195, 0.5185,
                0.5182, 0.5192, 0.5200, 0.5208, 0.5188, 0.5195, 0.5205, 0.5212, 0.5195, 0.5202,
                0.5210, 0.5202, 0.5198, 0.5190, 0.5185, 0.5195, 0.5205, 0.5198, 0.5192, 0.5200,
                0.5210, 0.5218, 0.5198, 0.5190, 0.5185, 0.5192, 0.5200, 0.5208, 0.5190, 0.5198,
                0.5208, 0.5200, 0.5195, 0.5188, 0.5182, 0.5190, 0.5200, 0.5210, 0.5190, 0.5198,
                0.5205, 0.5212, 0.5195, 0.5202, 0.5210, 0.5218, 0.5198, 0.5192, 0.5188, 0.5196]
T_AZR_PURPLE = [0.5190, 0.5176, 0.5200, 0.5206, 0.5182, 0.5170, 0.5195, 0.5205, 0.5178, 0.5168,
                0.5192, 0.5204, 0.5185, 0.5172, 0.5200, 0.5208, 0.5188, 0.5170, 0.5175, 0.5192,
                0.5192, 0.5176, 0.5182, 0.5200, 0.5198, 0.5178, 0.5188, 0.5200, 0.5175, 0.5158,
                0.5145, 0.5168, 0.5185, 0.5200, 0.5195, 0.5176, 0.5180, 0.5198, 0.5192, 0.5178,
                0.5185, 0.5170, 0.5200, 0.5208, 0.5188, 0.5172, 0.5178, 0.5200, 0.5195, 0.5180,
                0.5185, 0.5205, 0.5200, 0.5176, 0.5190, 0.5206, 0.5178, 0.5168, 0.5195, 0.5205,
                0.5182, 0.5168, 0.5198, 0.5206, 0.5188, 0.5172, 0.5175, 0.5198, 0.5192, 0.5176,
                0.5182, 0.5204, 0.5200, 0.5178, 0.5188, 0.5202, 0.5178, 0.5166, 0.5195, 0.5206,
                0.5185, 0.5170, 0.5200, 0.5208, 0.5190, 0.5172, 0.5178, 0.5200, 0.5195, 0.5180,
                0.5185, 0.5204, 0.5200, 0.5180, 0.5192, 0.5206, 0.5180, 0.5170, 0.5195, 0.5204]
T_AZR_RED = [0.5185, 0.5195, 0.5175, 0.5185, 0.5200, 0.5192, 0.5180, 0.5160, 0.5138, 0.5165,
             0.5190, 0.5168, 0.5142, 0.5160, 0.5175, 0.5188, 0.5195, 0.5188, 0.5180, 0.5172,
             0.5170, 0.5200, 0.5192, 0.5168, 0.5178, 0.5205, 0.5200, 0.5172, 0.5182, 0.5198,
             0.5170, 0.5158, 0.5195, 0.5210, 0.5180, 0.5165, 0.5205, 0.5190, 0.5185, 0.5200,
             0.5172, 0.5160, 0.5195, 0.5208, 0.5180, 0.5168, 0.5200, 0.5212, 0.5185, 0.5165,
             0.5170, 0.5198, 0.5192, 0.5165, 0.5178, 0.5205, 0.5198, 0.5172, 0.5182, 0.5200,
             0.5170, 0.5158, 0.5195, 0.5210, 0.5180, 0.5168, 0.5200, 0.5208, 0.5185, 0.5162,
             0.5172, 0.5198, 0.5195, 0.5170, 0.5182, 0.5206, 0.5200, 0.5175, 0.5185, 0.5200,
             0.5175, 0.5160, 0.5195, 0.5210, 0.5182, 0.5168, 0.5200, 0.5210, 0.5188, 0.5170,
             0.5175, 0.5200, 0.5195, 0.5170, 0.5182, 0.5205, 0.5200, 0.5178, 0.5188, 0.5202]

T_B2RU_BLUE = [0.140, 0.132, 0.125, 0.142, 0.150, 0.162, 0.160, 0.145, 0.148, 0.160,
               0.165, 0.172, 0.152, 0.142, 0.170, 0.176, 0.158, 0.150, 0.145, 0.155,
               0.160, 0.168, 0.150, 0.142, 0.165, 0.178, 0.175, 0.186, 0.192, 0.200,
               0.198, 0.190, 0.188, 0.176, 0.168, 0.158, 0.155, 0.165, 0.170, 0.160,
               0.160, 0.170, 0.150, 0.142, 0.165, 0.172, 0.155, 0.148, 0.170, 0.178,
               0.158, 0.150, 0.148, 0.160, 0.165, 0.156, 0.152, 0.140, 0.168, 0.175,
               0.155, 0.165, 0.145, 0.138, 0.162, 0.170, 0.150, 0.145, 0.168, 0.160,
               0.158, 0.150, 0.145, 0.155, 0.160, 0.168, 0.150, 0.142, 0.165, 0.172,
               0.155, 0.162, 0.145, 0.138, 0.160, 0.166, 0.150, 0.144, 0.142, 0.150,
               0.158, 0.166, 0.148, 0.140, 0.165, 0.170, 0.152, 0.146, 0.160, 0.168]
T_B2RU_GREEN = [0.165, 0.172, 0.155, 0.148, 0.172, 0.178, 0.158, 0.150, 0.168, 0.175,
                0.150, 0.142, 0.162, 0.168, 0.148, 0.140, 0.160, 0.166, 0.152, 0.160,
                0.168, 0.190, 0.204, 0.190, 0.175, 0.165, 0.158, 0.150, 0.148, 0.156,
                0.160, 0.166, 0.145, 0.138, 0.155, 0.162, 0.140, 0.134, 0.152, 0.158,
                0.162, 0.170, 0.148, 0.142, 0.158, 0.164, 0.145, 0.138, 0.160, 0.168,
                0.150, 0.158, 0.165, 0.172, 0.152, 0.146, 0.145, 0.152, 0.158, 0.165,
                0.148, 0.140, 0.162, 0.168, 0.150, 0.144, 0.140, 0.148, 0.155, 0.162,
                0.145, 0.138, 0.160, 0.166, 0.150, 0.145, 0.142, 0.150, 0.155, 0.162,
                0.148, 0.156, 0.165, 0.185, 0.200, 0.188, 0.175, 0.165, 0.158, 0.150,
                0.148, 0.142, 0.165, 0.172, 0.152, 0.146, 0.168, 0.175, 0.155, 0.148]
T_B2RU_ORANGE = [0.165, 0.158, 0.175, 0.182, 0.160, 0.154, 0.178, 0.184, 0.168, 0.176,
                 0.182, 0.190, 0.170, 0.164, 0.158, 0.166, 0.172, 0.180, 0.162, 0.155,
                 0.150, 0.158, 0.165, 0.172, 0.155, 0.148, 0.170, 0.176, 0.160, 0.154,
                 0.148, 0.138, 0.130, 0.142, 0.155, 0.162, 0.165, 0.158, 0.152, 0.160,
                 0.168, 0.176, 0.158, 0.152, 0.172, 0.178, 0.160, 0.154, 0.150, 0.158,
                 0.165, 0.172, 0.155, 0.148, 0.170, 0.176, 0.160, 0.152, 0.150, 0.160,
                 0.165, 0.172, 0.155, 0.148, 0.168, 0.175, 0.158, 0.152, 0.172, 0.178,
                 0.162, 0.155, 0.150, 0.158, 0.165, 0.172, 0.155, 0.148, 0.170, 0.176,
                 0.160, 0.154, 0.150, 0.158, 0.165, 0.172, 0.155, 0.150, 0.168, 0.175,
                 0.158, 0.165, 0.172, 0.178, 0.160, 0.154, 0.150, 0.158, 0.165, 0.172]
T_B2RU_PURPLE = [0.172, 0.178, 0.183, 0.174, 0.165, 0.170, 0.175, 0.168, 0.160, 0.166,
                 0.170, 0.162, 0.155, 0.148, 0.168, 0.174, 0.150, 0.144, 0.162, 0.168,
                 0.145, 0.138, 0.158, 0.164, 0.150, 0.144, 0.165, 0.170, 0.155, 0.148,
                 0.148, 0.140, 0.160, 0.166, 0.150, 0.144, 0.142, 0.150, 0.155, 0.162,
                 0.165, 0.170, 0.152, 0.146, 0.140, 0.148, 0.158, 0.164, 0.148, 0.142,
                 0.162, 0.168, 0.150, 0.144, 0.165, 0.170, 0.155, 0.150, 0.145, 0.152,
                 0.160, 0.166, 0.150, 0.144, 0.165, 0.170, 0.155, 0.148, 0.145, 0.152,
                 0.158, 0.164, 0.148, 0.142, 0.162, 0.168, 0.150, 0.144, 0.145, 0.152,
                 0.158, 0.164, 0.150, 0.144, 0.165, 0.170, 0.155, 0.150, 0.148, 0.154,
                 0.160, 0.166, 0.150, 0.144, 0.165, 0.170, 0.155, 0.150, 0.160, 0.166]
T_B2RU_RED = [0.150, 0.142, 0.138, 0.146, 0.155, 0.162, 0.145, 0.138, 0.160, 0.166,
              0.148, 0.142, 0.165, 0.170, 0.152, 0.146, 0.158, 0.164, 0.145, 0.138,
              0.160, 0.166, 0.150, 0.144, 0.168, 0.174, 0.155, 0.150, 0.162, 0.168,
              0.170, 0.178, 0.185, 0.175, 0.165, 0.158, 0.152, 0.145, 0.160, 0.166,
              0.148, 0.140, 0.158, 0.164, 0.142, 0.136, 0.155, 0.162, 0.165, 0.158,
              0.150, 0.144, 0.160, 0.166, 0.145, 0.140, 0.158, 0.164, 0.150, 0.145,
              0.162, 0.168, 0.148, 0.142, 0.155, 0.160, 0.142, 0.136, 0.158, 0.164,
              0.150, 0.144, 0.165, 0.170, 0.152, 0.146, 0.145, 0.152, 0.160, 0.166,
              0.150, 0.156, 0.142, 0.136, 0.158, 0.164, 0.148, 0.142, 0.162, 0.168,
              0.152, 0.146, 0.145, 0.152, 0.158, 0.164, 0.165, 0.158, 0.155, 0.162]

T_B2ZR_BLUE = [0.030, 0.015, 0.002, 0.020, 0.040, 0.052, 0.060, 0.048, 0.045, 0.058,
               0.070, 0.078, 0.050, 0.042, 0.080, 0.088, 0.060, 0.048, 0.035, 0.045,
               0.055, 0.064, 0.040, 0.032, 0.065, 0.078, 0.085, 0.098, 0.110, 0.118,
               0.118, 0.108, 0.100, 0.085, 0.070, 0.060, 0.050, 0.062, 0.075, 0.066,
               0.055, 0.064, 0.035, 0.028, 0.060, 0.070, 0.045, 0.038, 0.070, 0.078,
               0.050, 0.040, 0.030, 0.044, 0.060, 0.068, 0.045, 0.036, 0.070, 0.080,
               0.050, 0.060, 0.030, 0.022, 0.060, 0.068, 0.040, 0.032, 0.070, 0.078,
               0.055, 0.046, 0.035, 0.048, 0.060, 0.068, 0.045, 0.036, 0.070, 0.078,
               0.050, 0.058, 0.030, 0.022, 0.060, 0.068, 0.045, 0.038, 0.030, 0.040,
               0.055, 0.064, 0.040, 0.032, 0.070, 0.078, 0.050, 0.042, 0.060, 0.068]
T_B2ZR_GREEN = [0.070, 0.080, 0.050, 0.042, 0.085, 0.092, 0.060, 0.052, 0.075, 0.084,
                0.045, 0.038, 0.065, 0.072, 0.035, 0.028, 0.060, 0.068, 0.045, 0.058,
                0.075, 0.100, 0.128, 0.108, 0.085, 0.068, 0.055, 0.046, 0.040, 0.050,
                0.060, 0.068, 0.030, 0.022, 0.050, 0.058, 0.020, 0.012, 0.045, 0.055,
                0.065, 0.074, 0.035, 0.028, 0.055, 0.064, 0.025, 0.018, 0.060, 0.070,
                0.040, 0.032, 0.070, 0.078, 0.045, 0.036, 0.030, 0.040, 0.055, 0.064,
                0.040, 0.030, 0.065, 0.074, 0.045, 0.036, 0.020, 0.012, 0.050, 0.060,
                0.030, 0.022, 0.060, 0.068, 0.045, 0.036, 0.025, 0.016, 0.050, 0.060,
                0.040, 0.052, 0.070, 0.095, 0.120, 0.100, 0.080, 0.066, 0.055, 0.046,
                0.040, 0.032, 0.070, 0.078, 0.045, 0.038, 0.075, 0.084, 0.050, 0.042]
T_B2ZR_ORANGE = [0.060, 0.035, 0.010, 0.028, 0.050, 0.070, 0.085, 0.076, 0.065, 0.080,
                 0.090, 0.098, 0.070, 0.062, 0.050, 0.062, 0.080, 0.088, 0.060, 0.052,
                 0.040, 0.050, 0.070, 0.078, 0.050, 0.042, 0.080, 0.088, 0.060, 0.050,
                 0.040, 0.030, 0.020, 0.034, 0.050, 0.062, 0.070, 0.058, 0.045, 0.056,
                 0.080, 0.090, 0.060, 0.052, 0.085, 0.094, 0.065, 0.055, 0.045, 0.056,
                 0.075, 0.084, 0.055, 0.048, 0.085, 0.094, 0.065, 0.055, 0.045, 0.058,
                 0.075, 0.084, 0.055, 0.048, 0.080, 0.088, 0.060, 0.052, 0.085, 0.094,
                 0.065, 0.056, 0.045, 0.058, 0.075, 0.084, 0.055, 0.048, 0.080, 0.088,
                 0.060, 0.050, 0.040, 0.052, 0.070, 0.078, 0.050, 0.044, 0.080, 0.088,
                 0.060, 0.070, 0.085, 0.094, 0.065, 0.055, 0.045, 0.056, 0.070, 0.078]
T_B2ZR_PURPLE = [0.080, 0.088, 0.095, 0.082, 0.065, 0.072, 0.080, 0.068, 0.055, 0.064,
                 0.075, 0.082, 0.050, 0.044, 0.070, 0.078, 0.040, 0.034, 0.060, 0.068,
                 0.030, 0.040, 0.055, 0.062, 0.040, 0.032, 0.065, 0.072, 0.045, 0.038,
                 0.030, 0.022, 0.060, 0.068, 0.040, 0.030, 0.020, 0.032, 0.050, 0.058,
                 0.065, 0.072, 0.045, 0.036, 0.025, 0.038, 0.055, 0.062, 0.035, 0.028,
                 0.065, 0.072, 0.040, 0.034, 0.070, 0.078, 0.050, 0.042, 0.030, 0.040,
                 0.060, 0.068, 0.040, 0.032, 0.070, 0.078, 0.050, 0.042, 0.030, 0.040,
                 0.055, 0.062, 0.035, 0.028, 0.065, 0.072, 0.045, 0.036, 0.025, 0.036,
                 0.055, 0.062, 0.040, 0.032, 0.070, 0.078, 0.050, 0.042, 0.035, 0.046,
                 0.060, 0.068, 0.040, 0.032, 0.070, 0.078, 0.050, 0.042, 0.060, 0.068]
T_B2ZR_RED = [0.040, 0.030, 0.020, 0.034, 0.050, 0.058, 0.030, 0.022, 0.060, 0.068,
              0.035, 0.026, 0.070, 0.078, 0.045, 0.036, 0.055, 0.064, 0.030, 0.022,
              0.060, 0.068, 0.040, 0.032, 0.075, 0.082, 0.050, 0.042, 0.065, 0.074,
              0.080, 0.092, 0.103, 0.088, 0.070, 0.058, 0.045, 0.036, 0.060, 0.068,
              0.035, 0.026, 0.055, 0.062, 0.020, 0.012, 0.045, 0.056, 0.070, 0.078,
              0.040, 0.032, 0.060, 0.068, 0.025, 0.016, 0.055, 0.064, 0.035, 0.026,
              0.065, 0.074, 0.030, 0.022, 0.050, 0.058, 0.020, 0.012, 0.055, 0.064,
              0.035, 0.026, 0.070, 0.078, 0.045, 0.036, 0.025, 0.034, 0.060, 0.068,
              0.040, 0.032, 0.020, 0.030, 0.055, 0.062, 0.030, 0.022, 0.065, 0.074,
              0.045, 0.036, 0.025, 0.036, 0.055, 0.064, 0.070, 0.062, 0.050, 0.042]

T_B3RU_BLUE = [0.030, 0.048, 0.060, 0.040, 0.045, 0.065, 0.075, 0.058, 0.060, 0.080,
               0.090, 0.100, 0.105, 0.098, 0.120, 0.132, 0.140, 0.128, 0.115, 0.130,
               0.125, 0.112, 0.100, 0.118, 0.120, 0.108, 0.105, 0.120, 0.125, 0.112,
               0.110, 0.125, 0.135, 0.122, 0.120, 0.138, 0.140, 0.126, 0.115, 0.108,
               0.100, 0.092, 0.085, 0.100, 0.095, 0.082, 0.075, 0.090, 0.085, 0.072,
               0.070, 0.084, 0.080, 0.066, 0.065, 0.078, 0.075, 0.062, 0.060, 0.072,
               0.070, 0.060, 0.055, 0.068, 0.065, 0.052, 0.050, 0.044, 0.040, 0.050,
               0.055, 0.064, 0.070, 0.080, 0.085, 0.072, 0.075, 0.088, 0.090, 0.078,
               0.070, 0.080, 0.085, 0.094, 0.100, 0.118, 0.130, 0.142, 0.140, 0.130,
               0.120, 0.100, 0.080, 0.062, 0.050, 0.060, 0.065, 0.045, 0.030, 0.040]
T_B3RU_GREEN = [-0.030, -0.015, 0.000, -0.022, -0.040, -0.010, 0.010, 0.002, 0.020, 0.036,
                0.045, 0.040, 0.030, 0.048, 0.060, 0.052, 0.045, 0.058, 0.065, 0.058,
                0.055, 0.066, 0.070, 0.058, 0.060, 0.078, 0.085, 0.074, 0.070, 0.084,
                0.090, 0.082, 0.080, 0.094, 0.100, 0.090, 0.085, 0.096, 0.090, 0.080,
                0.075, 0.090, 0.100, 0.092, 0.090, 0.078, 0.080, 0.074, 0.070, 0.066,
                0.060, 0.055, 0.050, 0.046, 0.040, 0.036, 0.030, 0.020, 0.010, 0.006,
                0.000, -0.012, -0.020, -0.026, -0.030, -0.036, -0.040, -0.044, -0.045, -0.010,
                0.020, 0.042, 0.060, 0.072, 0.080, 0.090, 0.095, 0.084, 0.075, 0.088,
                0.100, 0.092, 0.085, 0.098, 0.095, 0.086, 0.080, 0.092, 0.090, 0.082,
                0.075, 0.088, 0.095, 0.086, 0.080, 0.072, 0.070, 0.082, 0.090, 0.084]
T_B3RU_ORANGE = [-0.020, -0.004, 0.010, -0.030, -0.064, -0.040, -0.010, -0.018, 0.000, 0.012,
                 0.020, -0.008, -0.030, -0.010, 0.005, -0.008, -0.020, -0.004, 0.010, -0.015,
                 -0.035, -0.018, 0.000, 0.014, 0.020, 0.000, -0.020, -0.008, 0.010, 0.002,
                 -0.010, 0.012, 0.030, -0.010, -0.040, -0.012, 0.020, 0.036, 0.050, 0.040,
                 0.030, 0.046, 0.060, 0.050, 0.040, 0.058, 0.070, 0.062, 0.060, 0.072,
                 0.080, 0.074, 0.070, 0.082, 0.090, 0.084, 0.080, 0.092, 0.100, 0.094,
                 0.090, 0.102, 0.110, 0.104, 0.100, 0.094, 0.090, 0.096, 0.100, 0.116,
                 0.130, 0.124, 0.120, 0.136, 0.145, 0.128, 0.110, 0.100, 0.090, 0.080,
                 0.070, 0.076, 0.080, 0.064, 0.050, 0.028, 0.010, -0.012, -0.030, -0.016,
                 0.000, -0.022, -0.040, -0.012, 0.020, 0.050, 0.080, 0.094, 0.100, 0.090]
T_B3RU_PURPLE = [0.090, 0.082, 0.075, 0.090, 0.100, 0.088, 0.080, 0.090, 0.095, 0.104,
                 0.110, 0.100, 0.095, 0.110, 0.120, 0.108, 0.100, 0.110, 0.115, 0.102,
                 0.090, 0.106, 0.120, 0.108, 0.100, 0.112, 0.110, 0.100, 0.095, 0.108,
                 0.120, 0.132, 0.140, 0.130, 0.125, 0.140, 0.150, 0.140, 0.130, 0.144,
                 0.155, 0.146, 0.140, 0.152, 0.160, 0.152, 0.150, 0.160, 0.155, 0.146,
                 0.140, 0.130, 0.120, 0.110, 0.100, 0.096, 0.090, 0.080, 0.070, 0.066,
                 0.060, 0.056, 0.050, 0.046, 0.040, 0.036, 0.030, 0.026, 0.020, 0.032,
                 0.050, 0.072, 0.090, 0.100, 0.110, 0.122, 0.130, 0.142, 0.150, 0.136,
                 0.120, 0.112, 0.110, 0.118, 0.120, 0.110, 0.100, 0.086, 0.070, 0.056,
                 0.040, 0.030, 0.020, 0.000, -0.020, -0.006, 0.010, 0.022, 0.030, 0.024]
T_B3RU_RED = [0.128, 0.112, 0.100, 0.110, 0.115, 0.098, 0.085, 0.100, 0.110, 0.098,
              0.090, 0.098, 0.105, 0.088, 0.075, 0.086, 0.095, 0.088, 0.080, 0.074,
              0.070, 0.062, 0.055, 0.072, 0.085, 0.070, 0.060, 0.068, 0.075, 0.070,
              0.065, 0.080, 0.095, 0.114, 0.130, 0.124, 0.120, 0.134, 0.145, 0.138,
              0.135, 0.146, 0.155, 0.150, 0.145, 0.160, 0.170, 0.164, 0.160, 0.166,
              0.165, 0.160, 0.155, 0.146, 0.140, 0.146, 0.150, 0.134, 0.120, 0.110,
              0.100, 0.090, 0.080, 0.070, 0.060, 0.050, 0.040, 0.030, 0.020, 0.040,
              0.060, 0.020, -0.020, 0.006, 0.030, 0.042, 0.050, 0.030, 0.010, 0.024,
              0.035, 0.002, -0.030, -0.004, 0.020, 0.034, 0.045, 0.018, -0.010, 0.004,
              0.020, -0.010, -0.040, -0.062, -0.080, -0.036, 0.010, -0.008, -0.030, -0.012]

T_B3ZR_BLUE = [0.220, 0.228, 0.235, 0.226, 0.225, 0.234, 0.240, 0.232, 0.230, 0.240,
               0.245, 0.236, 0.238, 0.246, 0.250, 0.256, 0.259, 0.250, 0.245, 0.238,
               0.235, 0.242, 0.245, 0.236, 0.230, 0.238, 0.240, 0.232, 0.232, 0.246,
               0.258, 0.250, 0.245, 0.254, 0.250, 0.242, 0.238, 0.244, 0.248, 0.240,
               0.235, 0.244, 0.240, 0.232, 0.228, 0.236, 0.235, 0.226, 0.228, 0.236,
               0.232, 0.224, 0.225, 0.233, 0.230, 0.222, 0.222, 0.230, 0.228, 0.220,
               0.220, 0.228, 0.225, 0.216, 0.215, 0.222, 0.220, 0.212, 0.210, 0.204,
               0.200, 0.208, 0.215, 0.222, 0.225, 0.232, 0.235, 0.226, 0.228, 0.236,
               0.240, 0.234, 0.232, 0.240, 0.245, 0.252, 0.255, 0.246, 0.250, 0.242,
               0.235, 0.228, 0.220, 0.212, 0.205, 0.212, 0.215, 0.206, 0.200, 0.208]
T_B3ZR_GREEN = [0.190, 0.196, 0.200, 0.192, 0.186, 0.194, 0.198, 0.204, 0.205, 0.198,
                0.195, 0.204, 0.210, 0.202, 0.200, 0.208, 0.215, 0.208, 0.205, 0.212,
                0.218, 0.212, 0.210, 0.218, 0.222, 0.214, 0.215, 0.224, 0.228, 0.220,
                0.218, 0.226, 0.225, 0.232, 0.232, 0.224, 0.222, 0.230, 0.228, 0.220,
                0.220, 0.226, 0.228, 0.220, 0.222, 0.228, 0.225, 0.216, 0.218, 0.212,
                0.215, 0.208, 0.210, 0.202, 0.205, 0.198, 0.200, 0.194, 0.198, 0.204,
                0.195, 0.188, 0.192, 0.200, 0.198, 0.190, 0.190, 0.184, 0.190, 0.198,
                0.205, 0.198, 0.200, 0.208, 0.212, 0.220, 0.225, 0.216, 0.218, 0.226,
                0.232, 0.238, 0.240, 0.232, 0.228, 0.236, 0.235, 0.226, 0.225, 0.230,
                0.220, 0.226, 0.232, 0.224, 0.225, 0.218, 0.218, 0.226, 0.228, 0.222]
T_B3ZR_ORANGE = [0.195, 0.204, 0.210, 0.198, 0.190, 0.198, 0.205, 0.196, 0.198, 0.206,
                 0.192, 0.186, 0.205, 0.196, 0.188, 0.194, 0.200, 0.206, 0.195, 0.188,
                 0.205, 0.198, 0.190, 0.195, 0.200, 0.192, 0.185, 0.190, 0.198, 0.204,
                 0.190, 0.198, 0.205, 0.212, 0.215, 0.204, 0.195, 0.202, 0.208, 0.200,
                 0.200, 0.208, 0.215, 0.208, 0.205, 0.212, 0.218, 0.210, 0.212, 0.220,
                 0.220, 0.212, 0.215, 0.222, 0.225, 0.218, 0.218, 0.226, 0.230, 0.222,
                 0.225, 0.232, 0.235, 0.228, 0.230, 0.236, 0.238, 0.232, 0.240, 0.248,
                 0.255, 0.250, 0.245, 0.252, 0.259, 0.254, 0.250, 0.240, 0.232, 0.222,
                 0.215, 0.220, 0.225, 0.216, 0.210, 0.202, 0.195, 0.200, 0.205, 0.198,
                 0.190, 0.195, 0.200, 0.196, 0.205, 0.218, 0.230, 0.236, 0.240, 0.232]
T_B3ZR_PURPLE = [0.235, 0.230, 0.225, 0.234, 0.240, 0.234, 0.230, 0.236, 0.238, 0.232,
                 0.228, 0.222, 0.220, 0.228, 0.232, 0.226, 0.225, 0.220, 0.218, 0.224,
                 0.230, 0.226, 0.222, 0.230, 0.235, 0.230, 0.228, 0.222, 0.220, 0.228,
                 0.235, 0.242, 0.245, 0.240, 0.238, 0.244, 0.248, 0.242, 0.240, 0.248,
                 0.255, 0.260, 0.262, 0.266, 0.268, 0.262, 0.260, 0.266, 0.265, 0.260,
                 0.258, 0.254, 0.250, 0.248, 0.245, 0.240, 0.238, 0.234, 0.230, 0.228,
                 0.225, 0.222, 0.218, 0.215, 0.212, 0.210, 0.208, 0.206, 0.205, 0.208,
                 0.210, 0.220, 0.230, 0.238, 0.245, 0.250, 0.255, 0.262, 0.268, 0.260,
                 0.250, 0.244, 0.240, 0.246, 0.245, 0.238, 0.235, 0.240, 0.242, 0.232,
                 0.220, 0.212, 0.205, 0.198, 0.195, 0.202, 0.210, 0.204, 0.200, 0.206]
T_B3ZR_RED = [0.248, 0.240, 0.235, 0.242, 0.245, 0.236, 0.228, 0.234, 0.238, 0.230,
              0.225, 0.230, 0.235, 0.226, 0.220, 0.226, 0.232, 0.224, 0.218, 0.222,
              0.225, 0.216, 0.210, 0.220, 0.230, 0.220, 0.212, 0.218, 0.225, 0.215,
              0.208, 0.210, 0.215, 0.232, 0.245, 0.238, 0.240, 0.250, 0.255, 0.250,
              0.250, 0.258, 0.265, 0.258, 0.260, 0.270, 0.275, 0.285, 0.292, 0.282,
              0.275, 0.270, 0.268, 0.264, 0.262, 0.256, 0.258, 0.266, 0.264, 0.258,
              0.256, 0.250, 0.240, 0.232, 0.225, 0.218, 0.210, 0.214, 0.205, 0.200,
              0.195, 0.202, 0.210, 0.198, 0.190, 0.198, 0.205, 0.196, 0.195, 0.202,
              0.210, 0.200, 0.190, 0.198, 0.205, 0.198, 0.195, 0.188, 0.188, 0.196,
              0.202, 0.196, 0.192, 0.200, 0.200, 0.194, 0.190, 0.196, 0.198, 0.192]

OVERLAY_TEXTS = ["Unique solution!!", "Good precision.",
                 "Multiplicity (distribution) insensitive to transport details."]

# ------------------------------------------------------------------ assembly
HISTS = [
    [H_RRU_BLUE, H_RRU_GREEN, H_RRU_ORANGE, H_RRU_PURPLE, H_RRU_RED],
    [H_RZR_BLUE, H_RZR_GREEN, H_RZR_ORANGE, H_RZR_PURPLE, H_RZR_RED],
    [H_ARU_BLUE, H_ARU_GREEN, H_ARU_ORANGE, H_ARU_PURPLE, H_ARU_RED],
    [H_AZR_BLUE, H_AZR_GREEN, H_AZR_ORANGE, H_AZR_PURPLE, H_AZR_RED],
    [H_B2RU_BLUE, H_B2RU_GREEN, H_B2RU_ORANGE, H_B2RU_PURPLE, H_B2RU_RED],
    [H_B2ZR_BLUE, H_B2ZR_GREEN, H_B2ZR_ORANGE, H_B2ZR_PURPLE, H_B2ZR_RED],
    [H_B3RU_BLUE, H_B3RU_GREEN, H_B3RU_ORANGE, H_B3RU_PURPLE, H_B3RU_RED],
    [H_B3ZR_BLUE, H_B3ZR_GREEN, H_B3ZR_ORANGE, H_B3ZR_PURPLE, H_B3ZR_RED],
]
CHAINS = [
    [T_RRU_BLUE, T_RRU_GREEN, T_RRU_ORANGE, T_RRU_PURPLE, T_RRU_RED],
    [T_RZR_BLUE, T_RZR_GREEN, T_RZR_ORANGE, T_RZR_PURPLE, T_RZR_RED],
    [T_ARU_BLUE, T_ARU_GREEN, T_ARU_ORANGE, T_ARU_PURPLE, T_ARU_RED],
    [T_AZR_BLUE, T_AZR_GREEN, T_AZR_ORANGE, T_AZR_PURPLE, T_AZR_RED],
    [T_B2RU_BLUE, T_B2RU_GREEN, T_B2RU_ORANGE, T_B2RU_PURPLE, T_B2RU_RED],
    [T_B2ZR_BLUE, T_B2ZR_GREEN, T_B2ZR_ORANGE, T_B2ZR_PURPLE, T_B2ZR_RED],
    [T_B3RU_BLUE, T_B3RU_GREEN, T_B3RU_ORANGE, T_B3RU_PURPLE, T_B3RU_RED],
    [T_B3ZR_BLUE, T_B3ZR_GREEN, T_B3ZR_ORANGE, T_B3ZR_PURPLE, T_B3ZR_RED],
]

# styles
SERIES_COLORS = ["#3b7dd8", "#7fbf6b", "#e0a530", "#7b1f8e", "#e41f1f"]
FILL_ALPHA = 0.2

REF_W, REF_H = 4456, 2377
OUT_W, OUT_H = 4096, 2185
S = OUT_W / REF_W

COL_L = [251, 773, 1296, 1818, 2340, 2862, 3385, 3907]
COL_W = 512
ROW_TOP, ROW_MID, ROW_BOT = 144, 1167, 2191

SERIF = "Liberation Serif"
SANS = "Liberation Sans"


def px(x):
    return x / REF_W


def py(y):
    return 1 - y / REF_H


def rgba(hexcol, a):
    h = hexcol.lstrip("#")
    r, g, b = int(h[0:2], 16), int(h[2:4], 16), int(h[4:6], 16)
    return f"rgba({r},{g},{b},{a})"


def axref(kind, i):
    return kind if i == 1 else f"{kind}{i}"


def stadium_path(xa, xb, yc, hh, ext, n=18):
    pts = []
    for k in range(n + 1):
        th = -np.pi / 2 + np.pi * k / n
        pts.append((xb + ext * np.cos(th), yc + hh * np.sin(th)))
    for k in range(n + 1):
        th = np.pi / 2 + np.pi * k / n
        pts.append((xa + ext * np.cos(th), yc + hh * np.sin(th)))
    return "M " + " L ".join(f"{px(x):.5f},{py(y):.5f}" for x, y in pts) + " Z"


fig = go.Figure()
layout_axes = {}
shapes = []
annotations = []

TICK_SIZE = round(70 * S)
TICKFONT = dict(family=SERIF, size=TICK_SIZE, color="black")
MAJOR_LEN, MINOR_LEN = round(21 * S), round(10 * S)
TICK_W = 3 * S
FRAME_W = 4.4 * S

for c in range(8):
    ih, it = c + 1, c + 9
    xdom = [px(COL_L[c]), px(COL_L[c] + COL_W)]
    hist_dom = [py(ROW_MID), py(ROW_TOP)]
    tr_dom = [py(ROW_BOT), py(ROW_MID)]

    # histograms
    for col, heights in zip(SERIES_COLORS, HISTS[c]):
        n = len(heights)
        edges = HIST_X0[c] + HIST_BW[c] * np.arange(n + 1)
        xs = np.concatenate([[edges[0]], edges[:n], [edges[n]]])
        ys = np.concatenate([[0.0], np.asarray(heights, float), [0.0]])
        fig.add_trace(go.Scatter(
            x=xs, y=ys, xaxis=axref("x", ih), yaxis=axref("y", ih), mode="lines",
            line=dict(shape="hv", color=col, width=3.2 * S),
            fill="tozeroy", fillcolor=rgba(col, FILL_ALPHA),
            hoverinfo="skip", showlegend=False))

    # chains
    for col, vals in zip(SERIES_COLORS, CHAINS[c]):
        samples = np.arange(len(vals)) * SAMPLE_STEP
        fig.add_trace(go.Scatter(
            x=vals, y=samples, xaxis=axref("x", it), yaxis=axref("y", it), mode="lines",
            line=dict(color=col, width=8.0 * S), hoverinfo="skip", showlegend=False))

    common_x = dict(
        range=X_RANGES[c], tickmode="array", tickvals=X_TICKVALS[c], ticktext=X_TICKTEXT[c],
        ticks="inside", ticklen=MAJOR_LEN, tickwidth=TICK_W, tickcolor="black",
        showline=True, linewidth=FRAME_W, linecolor="black", mirror="allticks",
        showgrid=False, zeroline=False, domain=xdom, tickfont=TICKFONT,
        minor=dict(ticks="inside", ticklen=MINOR_LEN, tickwidth=TICK_W, tickcolor="black",
                   tickmode="linear", tick0=X_TICKVALS[c][0], dtick=X_MINOR_STEP[c], showgrid=False),
    )
    layout_axes[("xaxis" if ih == 1 else f"xaxis{ih}")] = dict(
        common_x, anchor=axref("y", ih), showticklabels=False)
    layout_axes[f"xaxis{it}"] = dict(
        common_x, anchor=axref("y", it), showticklabels=True, tickangle=-90,
        ticklabelstandoff=round(12 * S))

    common_y = dict(
        ticks="inside", ticklen=MAJOR_LEN, tickwidth=TICK_W, tickcolor="black",
        showline=True, linewidth=FRAME_W, linecolor="black", mirror="allticks",
        showgrid=False, zeroline=False, tickfont=TICKFONT, showticklabels=(c == 0),
        ticklabelstandoff=round(8 * S), tickmode="array")
    layout_axes[("yaxis" if ih == 1 else f"yaxis{ih}")] = dict(
        common_y, anchor=axref("x", ih), domain=hist_dom, range=[0, 1.15],
        tickvals=HIST_TICKVALS, ticktext=HIST_TICKTEXT,
        minor=dict(ticks="inside", ticklen=MINOR_LEN, tickwidth=TICK_W, tickcolor="black",
                   tickmode="linear", tick0=0, dtick=0.05, showgrid=False))
    layout_axes[f"yaxis{it}"] = dict(
        common_y, anchor=axref("x", it), domain=tr_dom, range=[0, 1000],
        tickvals=SAMPLE_TICKVALS, ticktext=SAMPLE_TICKTEXT,
        minor=dict(ticks="inside", ticklen=MINOR_LEN, tickwidth=TICK_W, tickcolor="black",
                   tickmode="linear", tick0=0, dtick=50, showgrid=False))

    # truth lines
    for idx, dom in ((ih, hist_dom), (it, tr_dom)):
        shapes.append(dict(type="line", xref=axref("x", idx), yref="paper",
                           x0=TRUE_VALUES[c], x1=TRUE_VALUES[c], y0=dom[0], y1=dom[1],
                           line=dict(color="black", width=2.8 * S, dash=f"{12*S:.1f}px,{8*S:.1f}px"),
                           layer="above"))

    # column title
    annotations.append(dict(text=TITLES[c], x=px(COL_L[c] + COL_W / 2), y=py(70),
                            xref="paper", yref="paper", xanchor="center", yanchor="middle",
                            showarrow=False, font=dict(family=SERIF, size=round(85 * S), color="black")))

annotations.append(dict(text="Posterior (a.u.)", x=px(85), y=py(656), xref="paper", yref="paper",
                        textangle=-90, xanchor="center", yanchor="middle", showarrow=False,
                        font=dict(family=SERIF, size=round(85 * S), color="black")))
annotations.append(dict(text="sample #", x=px(72), y=py(1680), xref="paper", yref="paper",
                        textangle=-90, xanchor="center", yanchor="middle", showarrow=False,
                        font=dict(family=SERIF, size=round(88 * S), color="black")))

# overlay boxes: (x0, y0, x1, y1) in reference px, text centre
BOXES = [((1746, 563, 2917, 761), (2330, 672)),
         ((1781, 1033, 2883, 1232), (2326, 1137)),
         ((449, 1506, 4215, 1706), (2324, 1614))]
N_SH = 26
for (box, (cx, cy)), text in zip(BOXES, OVERLAY_TEXTS):
    x0, y0, x1, y1 = box
    for i in range(N_SH):
        t = i / (N_SH - 1)
        ext = 340 * (1 - t) + 30 * t
        hh = 72 * (1 - t) + 8 * t
        shapes.append(dict(type="path", xref="paper", yref="paper",
                           path=stadium_path(x0 + 20, x1 - 20, y1 + 20, hh, ext),
                           fillcolor="rgba(0,0,0,0.019)", line=dict(width=0), layer="above"))
    shapes.append(dict(type="rect", xref="paper", yref="paper",
                       x0=px(x0), x1=px(x1), y0=py(y1), y1=py(y0),
                       fillcolor="white", line=dict(width=0), layer="above"))
    annotations.append(dict(text=f"<b><i>{text}</i></b>", x=px(cx), y=py(cy),
                            xref="paper", yref="paper", xanchor="center", yanchor="middle",
                            showarrow=False, font=dict(family=SANS, size=round(140 * S), color="black")))

fig.update_layout(
    width=OUT_W, height=OUT_H, autosize=False,
    margin=dict(l=0, r=0, t=0, b=0, pad=0),
    paper_bgcolor="white", plot_bgcolor="white",
    font=dict(family=SERIF, size=TICK_SIZE, color="black"),
    showlegend=False, shapes=shapes, annotations=annotations,
    **layout_axes)
fig.update_xaxes(tickfont=dict(family=SERIF, size=TICK_SIZE, color="black"))
fig.update_yaxes(tickfont=dict(family=SERIF, size=TICK_SIZE, color="black"))

fig.write_html("out.html")
